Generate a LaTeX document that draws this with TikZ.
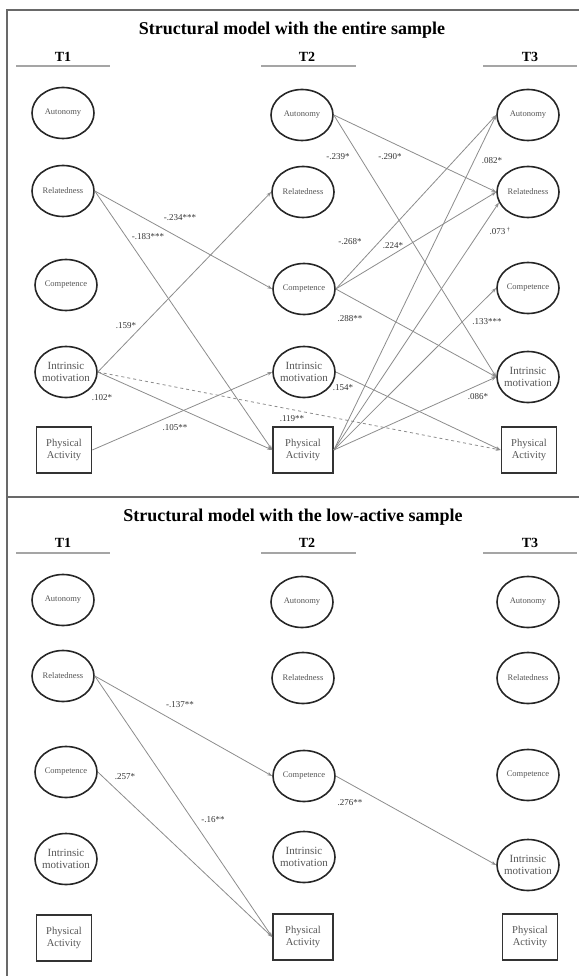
\documentclass[tikz,border=0pt]{standalone}
\usepackage{fontspec}
\setmainfont{Liberation Serif}
\usepackage{xcolor}
\usepackage{tikz}
\usetikzlibrary{arrows.meta,shapes.geometric}
\definecolor{framegray}{RGB}{105,105,105}
\definecolor{rulegray}{RGB}{165,165,165}
\definecolor{pathgray}{RGB}{140,140,140}
\definecolor{nodetext}{RGB}{85,85,85}

\begin{document}
\begin{tikzpicture}[x=1pt,y=-1pt,
  latent/.style={ellipse,draw=black!85,line width=1.6pt,minimum width=62pt,minimum height=51pt,inner sep=0pt,text=nodetext,font=\fontsize{8.5}{10}\selectfont,align=center},
  imot/.style={latent,inner xsep=-3.5pt,font=\fontsize{11}{12.3}\selectfont},
  observed/.style={rectangle,draw=black!80,line width=1.6pt,minimum width=55pt,minimum height=46pt,inner sep=0pt,text=nodetext,font=\fontsize{10.5}{12.3}\selectfont,align=center},
  reg/.style={pathgray,line width=0.8pt,-{Stealth[length=5pt,width=3.5pt]}},
  coef/.style={font=\fontsize{9}{10}\selectfont,text=black!80,inner sep=0pt},
  heading/.style={font=\fontsize{18}{20}\selectfont\bfseries},
  wave/.style={font=\fontsize{14}{16}\selectfont\bfseries}]
  \useasboundingbox (0,0) rectangle (579,976);
  \draw[framegray,line width=2.5pt] (7,976) -- (7,10) -- (579,10);
  \draw[framegray,line width=2.5pt] (7,497) -- (579,497);

  % entire sample
  \node[heading] (Etitle) at (292,30) {Structural model with the entire sample};
  \node[wave] (Et1) at (63,57) {T1};
  \node[wave] (Et2) at (307,57) {T2};
  \node[wave] (Et3) at (530,57) {T3};
  \draw[rulegray,line width=1.8pt] (16,66) -- (110,66) (261,66) -- (356,66) (483,66) -- (577,66);

  \node[latent] (Eaut1) at (63,113) {Autonomy};
  \node[latent] (Erel1) at (63,191) {Relatedness};
  \node[latent] (Ecom1) at (66,285) {Competence};
  \node[imot] (Eim1) at (66,372) {Intrinsic\\motivation};
  \node[observed] (Epa1) at (64,450) {Physical\\Activity};
  \node[latent] (Eaut2) at (302,115) {Autonomy};
  \node[latent] (Erel2) at (303,192) {Relatedness};
  \node[latent] (Ecom2) at (304,289) {Competence};
  \node[imot] (Eim2) at (304,372) {Intrinsic\\motivation};
  \node[observed,minimum width=60pt] (Epa2) at (303,450) {Physical\\Activity};
  \node[latent] (Eaut3) at (528,115) {Autonomy};
  \node[latent] (Erel3) at (528,192) {Relatedness};
  \node[latent] (Ecom3) at (528,288) {Competence};
  \node[imot] (Eim3) at (528,377) {Intrinsic\\motivation};
  \node[observed] (Epa3) at (529,450) {Physical\\Activity};

  \draw[reg] (Erel1.east) -- (Ecom2.west);
  \draw[reg] (Erel1.east) -- (Epa2.west);
  \draw[reg] (Eim1.east) -- (Erel2.west);
  \draw[reg] (Eim1.east) -- (Epa2.west);
  \draw[reg] (Epa1.east) -- (Eim2.west);
  \draw[reg,dashed] (Eim1.east) -- (Epa3.west);
  \draw[reg] (Eaut2.east) -- (Erel3.west);
  \draw[reg] (Eaut2.east) -- (Eim3.west);
  \draw[reg] (Ecom2.east) -- (Eaut3.west);
  \draw[reg] (Ecom2.east) -- (Erel3.west);
  \draw[reg] (Ecom2.east) -- (Eim3.west);
  \draw[reg] (Eim2.east) -- (Epa3.west);
  \draw[reg] (Epa2.east) -- (Eaut3.west);
  \draw[reg] (Epa2.east) -- (Erel3.200);
  \draw[reg] (Epa2.east) -- (Ecom3.west);
  \draw[reg] (Epa2.east) -- (Eim3.west);

  \node[coef] (Ek1) at (180,218) {-.234***};
  \node[coef] (Ek2) at (148,237) {-.183***};
  \node[coef] (Ek3) at (126,326) {.159*};
  \node[coef] (Ek4) at (102,398) {.102*};
  \node[coef] (Ek5) at (175,428) {.105**};
  \node[coef] (Ek6) at (292,419) {.119**};
  \node[coef] (Ek7) at (338,157) {-.239*};
  \node[coef] (Ek8) at (390,157) {-.290*};
  \node[coef] (Ek9) at (350,242) {-.268*};
  \node[coef] (Ek10) at (393,246) {.224*};
  \node[coef] (Ek11) at (350,319) {.288**};
  \node[coef] (Ek12) at (343,388) {.154*};
  \node[coef] (Ek13) at (492,161) {.082*};
  \node[coef] (Ek14) at (500,231) {.073\,\textsuperscript{†}};
  \node[coef] (Ek15) at (487,322) {.133***};
  \node[coef] (Ek16) at (478,397) {.086*};

  % low-active sample
  \node[heading] (Ltitle) at (293,517) {Structural model with the low-active sample};
  \node[wave] (Lt1) at (63,543) {T1};
  \node[wave] (Lt2) at (307,543) {T2};
  \node[wave] (Lt3) at (530,543) {T3};
  \draw[rulegray,line width=1.8pt] (16,553) -- (110,553) (261,553) -- (356,553) (483,553) -- (577,553);

  \node[latent] (Laut1) at (63,600) {Autonomy};
  \node[latent] (Lrel1) at (63,676) {Relatedness};
  \node[latent] (Lcom1) at (66,772) {Competence};
  \node[imot] (Lim1) at (66,859) {Intrinsic\\motivation};
  \node[observed] (Lpa1) at (64,938) {Physical\\Activity};
  \node[latent] (Laut2) at (302,602) {Autonomy};
  \node[latent] (Lrel2) at (303,678) {Relatedness};
  \node[latent] (Lcom2) at (304,776) {Competence};
  \node[imot] (Lim2) at (304,857) {Intrinsic\\motivation};
  \node[observed,minimum width=60pt] (Lpa2) at (303,937) {Physical\\Activity};
  \node[latent] (Laut3) at (528,602) {Autonomy};
  \node[latent] (Lrel3) at (528,678) {Relatedness};
  \node[latent] (Lcom3) at (528,775) {Competence};
  \node[imot] (Lim3) at (528,865) {Intrinsic\\motivation};
  \node[observed] (Lpa3) at (530,937) {Physical\\Activity};

  \draw[reg] (Lrel1.east) -- (Lcom2.west);
  \draw[reg] (Lrel1.east) -- (Lpa2.west);
  \draw[reg] (Lcom1.east) -- (Lpa2.west);
  \draw[reg] (Lcom2.east) -- (Lim3.west);

  \node[coef] (Lk1) at (180,705) {-.137**};
  \node[coef] (Lk2) at (125,777) {.257*};
  \node[coef] (Lk3) at (213,820) {-.16**};
  \node[coef] (Lk4) at (350,803) {.276**};
\end{tikzpicture}
\end{document}
